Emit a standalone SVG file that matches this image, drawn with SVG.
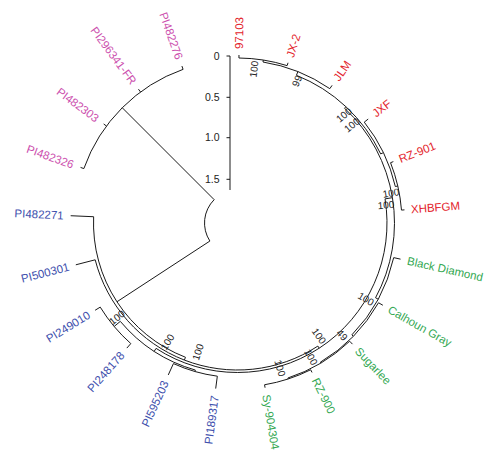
<svg xmlns="http://www.w3.org/2000/svg" width="496" height="456" viewBox="0 0 496 456">
<style>
.br{fill:none;stroke:#1a1a1a;stroke-width:1}
.lab{font-family:"Liberation Sans",Arial,sans-serif;font-size:11.5px}
.s{text-anchor:start}
.e{text-anchor:end}
.red{fill:#e3232b}
.grn{fill:#33a852}
.blu{fill:#4050ad}
.mag{fill:#cc4fae}
.bs{font-family:"Liberation Sans",Arial,sans-serif;font-size:10px;fill:#222;text-anchor:middle}
.sc{font-family:"Liberation Sans",Arial,sans-serif;font-size:10.5px;fill:#222;text-anchor:end}
</style>
<rect width="496" height="456" fill="#fff"/>
<g id="connectors" class="br">
<path d="M209.88,241.05 A33,33 0 0 1 214.17,199.67"/>
<path d="M214.17,199.67 L122.24,107.74"/>
<path d="M209.88,241.05 L116.95,301.77"/>
<path d="M83.85,168.59 A163,163 0 0 1 183.09,69.35"/>
<path d="M83.85,168.59 L80.55,167.42 M106.47,126.04 L103.66,123.96 M140.54,91.97 L138.46,89.16 M183.09,69.35 L181.92,66.05"/>
<path d="M185.47,357.27 A144,144 0 0 1 93.64,216.72"/>
<path d="M93.64,216.72 L70.66,215.72"/>
<path d="M185.47,357.27 L184.39,360.07"/>
<path d="M317.87,346.09 A147,147 0 0 1 95.18,259.81"/>
<path d="M95.18,259.81 L75.82,264.81"/>
<path d="M317.87,346.09 L319.23,348.18"/>
<path d="M385.04,198.89 A149.5,149.5 0 0 1 156.08,348.38"/>
<path d="M156.08,348.38 L154.17,351.32"/>
<path d="M195.33,370.07 A153,153 0 0 1 120.30,321.35"/>
<path d="M120.30,321.35 L114.17,326.49"/>
<path d="M130.82,343.58 A161,161 0 0 1 100.22,307.12"/>
<path d="M130.82,343.58 L126.84,348.08 M100.22,307.12 L95.11,310.26"/>
<path d="M195.33,370.07 L194.91,371.51"/>
<path d="M217.33,376.18 A154.5,154.5 0 0 1 173.43,363.59"/>
<path d="M217.33,376.18 L215.70,388.57 M173.43,363.59 L168.25,374.96"/>
<path d="M385.04,198.89 L392.44,197.68"/>
<path d="M344.57,108.18 A157,157 0 0 1 375.55,297.77"/>
<path d="M344.57,108.18 L345.94,106.72"/>
<path d="M296.42,75.32 A159,159 0 0 1 380.71,153.92"/>
<path d="M296.42,75.32 L297.90,71.60"/>
<path d="M263.00,62.01 A163,163 0 0 1 329.82,88.67"/>
<path d="M329.82,88.67 L332.09,85.37"/>
<path d="M263.00,62.01 L263.31,60.03"/>
<path d="M238.94,58.01 A165,165 0 0 1 287.12,65.64"/>
<path d="M238.94,58.01 L238.97,55.01 M287.12,65.64 L288.02,62.78"/>
<path d="M380.71,153.92 L383.41,152.62"/>
<path d="M364.28,122.15 A162,162 0 0 1 395.35,186.56"/>
<path d="M364.28,122.15 L368.20,119.04"/>
<path d="M395.35,186.56 L397.78,186.00"/>
<path d="M390.55,162.71 A164.5,164.5 0 0 1 401.49,210.09"/>
<path d="M390.55,162.71 L393.35,161.61 M401.49,210.09 L404.48,209.86"/>
<path d="M375.55,297.77 L378.19,299.19"/>
<path d="M393.71,257.63 A160,160 0 0 1 351.87,334.89"/>
<path d="M393.71,257.63 L400.54,259.15"/>
<path d="M351.87,334.89 L353.30,336.29"/>
<path d="M378.50,302.77 A162,162 0 0 1 320.33,362.22"/>
<path d="M378.50,302.77 L382.85,305.23"/>
<path d="M320.33,362.22 L320.84,363.08"/>
<path d="M349.70,341.24 A163,163 0 0 1 287.87,378.02"/>
<path d="M349.70,341.24 L352.45,344.14"/>
<path d="M287.87,378.02 L288.18,378.97"/>
<path d="M310.68,369.77 A164,164 0 0 1 264.57,384.75"/>
<path d="M310.68,369.77 L312.02,372.45 M264.57,384.75 L265.06,387.71"/>
</g>
<g id="scale-bar">
<path class="br" d="M230,56 V190 M226.5,56 H230 M226.5,97.3 H230 M226.5,137.7 H230 M226.5,179.3 H230"/>
<text class="sc" x="219.5" y="59.7">0</text>
<text class="sc" x="219.5" y="101">0.5</text>
<text class="sc" x="219.5" y="141.4">1.0</text>
<text class="sc" x="219.5" y="183">1.5</text>
</g>
<g id="support">
<text class="bs" x="254" y="69" dy="0.35em" transform="rotate(-83.5 254 69)">100</text>
<text class="bs" x="297" y="81" dy="0.35em" transform="rotate(-67 297 81)">99</text>
<text class="bs" x="344" y="115" dy="0.35em" transform="rotate(-40 344 115)">100</text>
<text class="bs" x="352" y="125" dy="0.35em" transform="rotate(-40 352 125)">100</text>
<text class="bs" x="391" y="193" dy="0.35em" transform="rotate(-9 391 193)">100</text>
<text class="bs" x="386" y="205" dy="0.35em" transform="rotate(-5 386 205)">100</text>
<text class="bs" x="366" y="299" dy="0.35em" transform="rotate(31 366 299)">100</text>
<text class="bs" x="342" y="335" dy="0.35em" transform="rotate(47 342 335)">49</text>
<text class="bs" x="319" y="336" dy="0.35em" transform="rotate(54 319 336)">100</text>
<text class="bs" x="311" y="357" dy="0.35em" transform="rotate(61 311 357)">100</text>
<text class="bs" x="280" y="368" dy="0.35em" transform="rotate(74 280 368)">100</text>
<text class="bs" x="198" y="352" dy="0.35em" transform="rotate(-72.7 198 352)">100</text>
<text class="bs" x="167.5" y="342" dy="0.35em" transform="rotate(-59 167.5 342)">100</text>
<text class="bs" x="117" y="317.5" dy="0.35em" transform="rotate(-38.2 117 317.5)">100</text>
</g>
<g id="n-97103"><text class="lab s red" x="239.02" y="49.0" dy="0.35em" transform="rotate(-89.5 239.02 49.0)">97103</text></g>
<g id="n-JX-2"><text class="lab s red" x="289.82" y="57.05" dy="0.35em" transform="rotate(-72.5 289.82 57.05)">JX-2</text></g>
<g id="n-JLM"><text class="lab s red" x="336.06" y="79.60" dy="0.35em" transform="rotate(-55.5 336.06 79.60)">JLM</text></g>
<g id="n-JXF"><text class="lab s red" x="373.67" y="114.68" dy="0.35em" transform="rotate(-38.5 373.67 114.68)">JXF</text></g>
<g id="n-RZ-901"><text class="lab s red" x="399.39" y="159.23" dy="0.35em" transform="rotate(-21.5 399.39 159.23)">RZ-901</text></g>
<g id="n-XHBFGM"><text class="lab s red" x="410.96" y="209.35" dy="0.35em" transform="rotate(-4.5 410.96 209.35)">XHBFGM</text></g>
<g id="n-BlackDiamond"><text class="lab s grn" x="407.38" y="260.66" dy="0.35em" transform="rotate(12.5 407.38 260.66)">Black Diamond</text></g>
<g id="n-CalhounGray"><text class="lab s grn" x="388.94" y="308.68" dy="0.35em" transform="rotate(29.5 388.94 308.68)">Calhoun Gray</text></g>
<g id="n-Sugarlee"><text class="lab s grn" x="357.27" y="349.21" dy="0.35em" transform="rotate(46.5 357.27 349.21)">Sugarlee</text></g>
<g id="n-RZ-900"><text class="lab s grn" x="315.14" y="378.72" dy="0.35em" transform="rotate(63.5 315.14 378.72)">RZ-900</text></g>
<g id="n-Sy-904304"><text class="lab s grn" x="266.22" y="394.61" dy="0.35em" transform="rotate(80.5 266.22 394.61)">Sy-904304</text></g>
<g id="n-PI189317"><text class="lab e blu" x="214.79" y="395.51" dy="0.35em" transform="rotate(-82.5 214.79 395.51)">PI189317</text></g>
<g id="n-PI595203"><text class="lab e blu" x="165.34" y="381.33" dy="0.35em" transform="rotate(-65.5 165.34 381.33)">PI595203</text></g>
<g id="n-PI248178"><text class="lab e blu" x="122.20" y="353.32" dy="0.35em" transform="rotate(-48.5 122.20 353.32)">PI248178</text></g>
<g id="n-PI249010"><text class="lab e blu" x="89.14" y="313.92" dy="0.35em" transform="rotate(-31.5 89.14 313.92)">PI249010</text></g>
<g id="n-PI500301"><text class="lab e blu" x="69.04" y="266.57" dy="0.35em" transform="rotate(-14.5 69.04 266.57)">PI500301</text></g>
<g id="n-PI482271"><text class="lab e blu" x="63.67" y="215.41" dy="0.35em" transform="rotate(2.5 63.67 215.41)">PI482271</text></g>
<g id="n-PI482326"><text class="lab e mag" x="73.48" y="164.92" dy="0.35em" transform="rotate(19.5 73.48 164.92)">PI482326</text></g>
<g id="n-PI482303"><text class="lab e mag" x="97.63" y="119.50" dy="0.35em" transform="rotate(36.5 97.63 119.50)">PI482303</text></g>
<g id="n-PI296341-FR"><text class="lab e mag" x="134.00" y="83.13" dy="0.35em" transform="rotate(53.5 134.00 83.13)">PI296341-FR</text></g>
<g id="n-PI482276"><text class="lab e mag" x="179.42" y="58.98" dy="0.35em" transform="rotate(70.5 179.42 58.98)">PI482276</text></g>
</svg>
